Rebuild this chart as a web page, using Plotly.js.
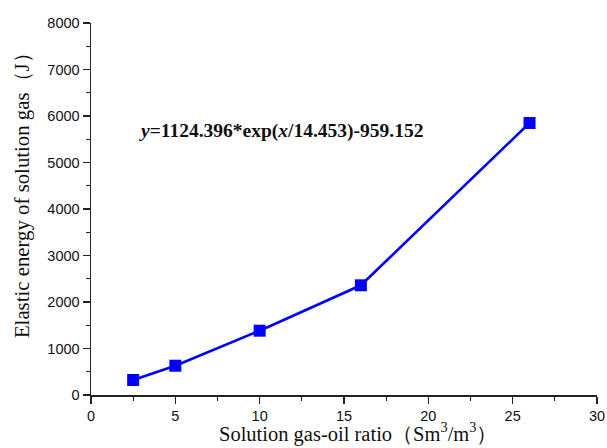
<!DOCTYPE html>
<html>
<head>
<meta charset="utf-8">
<script src="https://cdn.plot.ly/plotly-3.0.1.min.js"></script>
<style>html,body{margin:0;padding:0;background:#fff;}#chart{width:607px;height:448px;}</style>
</head>
<body>
<div id="chart"></div>
<script>
// Solution gas-oil ratio (Sm3/m3) and elastic energy of solution gas (J)
const gasOilRatio = [2.5, 5, 10, 16, 26];
const elasticEnergy = [323, 630, 1383, 2359, 5849];
const fitLabel = '<i>y</i>=1124.396*exp(<i>x</i>/14.453)-959.152';
const xTitle = 'Solution gas-oil ratio（Sm<sup>3</sup>/m<sup>3</sup>）';
const yTitle = 'Elastic energy of solution gas（J）';

const serif = 'Liberation Serif, Times New Roman, serif';

const axisCommon = {
  showline: true, linecolor: '#222', linewidth: 1.5,
  ticks: 'outside', ticklen: 7, tickwidth: 1.2, tickcolor: '#222',
  showgrid: false, zeroline: false, mirror: false,
  tickfont: {family: 'Liberation Sans, Arial, sans-serif', size: 14.5, color: '#111'},
  minor: {ticks: 'outside', ticklen: 4, tickwidth: 1, tickcolor: '#222', showgrid: false}
};

const data = [{
  x: gasOilRatio, y: elasticEnergy,
  mode: 'lines+markers', type: 'scatter',
  line: {color: '#0000ff', width: 2.6},
  marker: {symbol: 'square', size: 12, color: '#0000ff'},
  cliponaxis: false
}];

const layout = {
  width: 607, height: 448,
  margin: {l: 91, r: 10, t: 23, b: 53},
  paper_bgcolor: '#fff', plot_bgcolor: '#fff',
  showlegend: false,
  xaxis: Object.assign({}, axisCommon, {
    range: [0, 30], dtick: 5, tick0: 0,
    minor: Object.assign({}, axisCommon.minor, {dtick: 2.5})
  }),
  yaxis: Object.assign({}, axisCommon, {
    range: [0, 8000], dtick: 1000, tick0: 0,
    minor: Object.assign({}, axisCommon.minor, {dtick: 500})
  }),
  annotations: [
    {
      x: 2.73, y: 5677, xref: 'x', yref: 'y',
      xanchor: 'left', yanchor: 'middle', showarrow: false,
      text: '<b>' + fitLabel + '</b>',
      font: {family: serif, size: 19.5, color: '#111'}
    },
    {
      // x-axis title
      x: 0.528, y: -0.102, xref: 'paper', yref: 'paper',
      xanchor: 'center', yanchor: 'middle', showarrow: false,
      text: xTitle,
      font: {family: serif, size: 20.5, color: '#111'}
    },
    {
      // y-axis title
      x: -0.135, y: 0.55, xref: 'paper', yref: 'paper',
      xanchor: 'center', yanchor: 'middle', showarrow: false,
      textangle: -90,
      text: yTitle,
      font: {family: serif, size: 20.8, color: '#111'}
    }
  ]
};

Plotly.newPlot('chart', data, layout, {displayModeBar: false, staticPlot: true});
</script>
</body>
</html>
